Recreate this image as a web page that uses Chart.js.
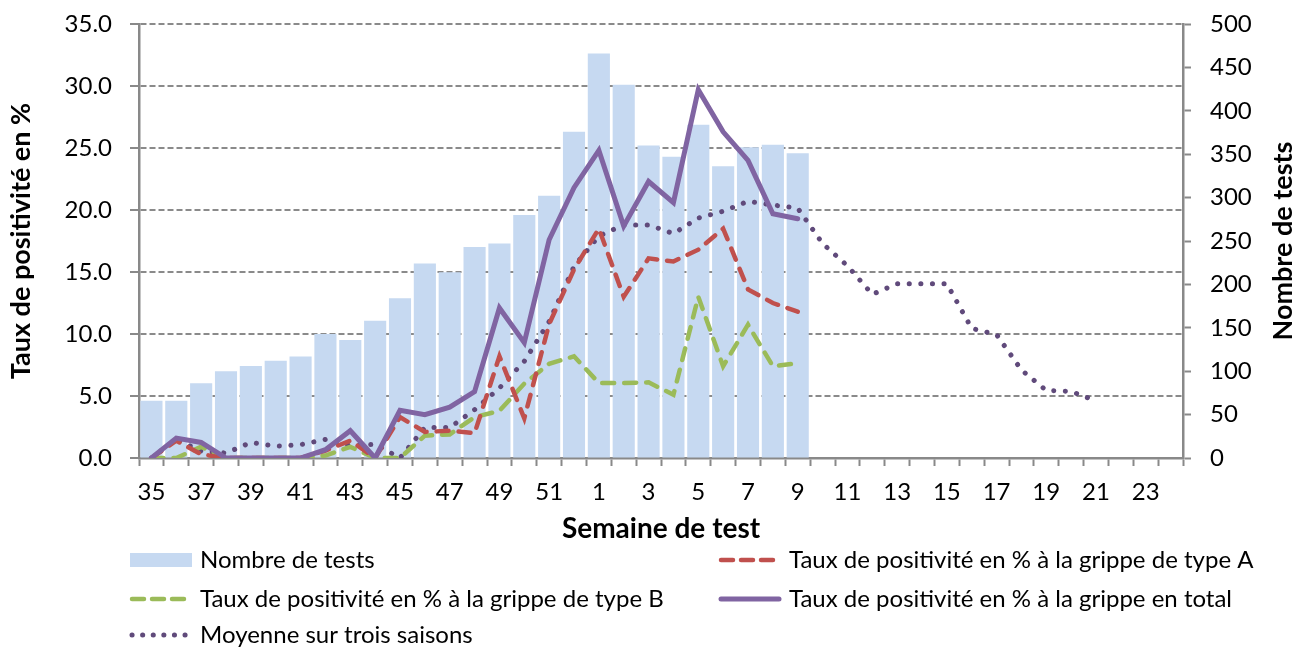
<!DOCTYPE html>
<html lang="fr">
<head>
<meta charset="utf-8">
<title>Taux de positivité grippe</title>
<script src="https://cdn.jsdelivr.net/npm/chart.js@4.4.1/dist/chart.umd.min.js"></script>
<style>
  html, body { margin: 0; padding: 0; background: #fff; }
  #wrap { width: 1299px; height: 649px; position: relative; }
</style>
</head>
<body>
<div id="wrap"><canvas id="chart"></canvas></div>
<script>
// Data
const weeks = ['35','36','37','38','39','40','41','42','43','44','45','46','47','48','49','50','51','52',
  '1','2','3','4','5','6','7','8','9','10','11','12','13','14','15','16','17','18','19','20','21','22','23','24'];

const nbTests = [66, 66, 86, 100, 106, 112, 117, 143, 136, 158, 184, 224, 214, 243, 247, 280, 302, 376,
  466, 430, 360, 347, 384, 336, 358, 361, 351];

const tauxA = [0, 1.4, 0.3, 0, 0, 0, 0, 0.6, 1.4, 0, 3.3, 2.1, 2.2, 2.0, 8.2, 3.2, 10.8, 15.2,
  18.5, 13.0, 16.1, 15.85, 16.8, 18.5, 13.6, 12.5, 11.8];

const tauxB = [0, 0, 0.9, 0, 0, 0, 0, 0.2, 0.9, 0, 0, 1.8, 1.9, 3.3, 3.8, 6.0, 7.6, 8.2,
  6.05, 6.05, 6.1, 5.1, 13.0, 7.4, 10.75, 7.4, 7.65];

const tauxTotal = [0, 1.6, 1.25, 0, 0, 0, 0, 0.67, 2.2, 0, 3.85, 3.5, 4.1, 5.35, 12.1, 9.3, 17.6, 21.8,
  24.8, 18.7, 22.3, 20.6, 29.7, 26.3, 24.0, 19.7, 19.3];

const moyenne = [0, 1.5, 0.55, 0.4, 1.25, 0.95, 1.07, 1.5, 1.0, 1.1, 0, 2.45, 2.45, 3.9, 5.64, 7.8, 11.0, 15.45,
  17.9, 18.8, 18.8, 18.1, 19.35, 19.9, 20.7, 20.4, 20.15, 17.3, 15.5, 13.2, 14.05, 14.05, 14.05, 10.45, 9.95,
  7.1, 5.45, 5.37, 4.6];

const leftTicks = [0, 5, 10, 15, 20, 25, 30, 35];
const rightTicks = [0, 50, 100, 150, 200, 250, 300, 350, 400, 450, 500];

const FONT = 'Lato, "Open Sans", sans-serif';

// pad series to the full week list
function pad(arr) {
  return weeks.map((w, i) => (i < arr.length ? arr[i] : null));
}

// custom legend + right axis title (reads bottom to top like the left one)
const extras = {
  id: 'extras',
  afterDraw(chart) {
    const ctx = chart.ctx;
    const ds = chart.data.datasets;
    const items = [
      { d: 0, x: 130, y: 560 },
      { d: 1, x: 719, y: 560 },
      { d: 2, x: 130, y: 599 },
      { d: 3, x: 719, y: 599 },
      { d: 4, x: 130, y: 635 }
    ];
    ctx.save();
    items.forEach(it => {
      const d = ds[it.d];
      if (d.type === 'bar') {
        ctx.fillStyle = d.backgroundColor;
        ctx.fillRect(it.x, it.y - 7, 62, 14);
      } else {
        ctx.beginPath();
        ctx.strokeStyle = d.borderColor;
        ctx.lineWidth = d.borderWidth;
        ctx.lineCap = d.borderCapStyle || 'butt';
        ctx.setLineDash(d.legendDash || []);
        ctx.moveTo(it.x + 2, it.y);
        ctx.lineTo(it.x + 60, it.y);
        ctx.stroke();
        ctx.setLineDash([]);
      }
      ctx.fillStyle = '#000';
      ctx.font = '24px ' + FONT;
      ctx.textBaseline = 'middle';
      ctx.textAlign = 'left';
      ctx.fillText(d.label, it.x + 70, it.y);
    });

    // right axis title
    const area = chart.chartArea;
    ctx.translate(1283, (area.top + area.bottom) / 2);
    ctx.rotate(-Math.PI / 2);
    ctx.font = 'bold 27px ' + FONT;
    ctx.textAlign = 'center';
    ctx.textBaseline = 'middle';
    ctx.fillText('Nombre de tests', 0, 0);
    ctx.restore();
  }
};

const chart = new Chart(document.getElementById('chart'), {
  data: {
    labels: weeks,
    datasets: [
      {
        type: 'bar',
        label: 'Nombre de tests',
        data: pad(nbTests),
        yAxisID: 'y1',
        backgroundColor: '#c6d9f1',
        barPercentage: 0.89,
        categoryPercentage: 1.0,
        order: 10
      },
      {
        type: 'line',
        label: 'Taux de positivité en % à la grippe de type A',
        data: pad(tauxA),
        yAxisID: 'y',
        borderColor: '#c0504d',
        borderWidth: 4.5,
        borderDash: [12, 10],
        legendDash: [12, 8],
        borderCapStyle: 'round',
        pointRadius: 0,
        tension: 0,
        order: 2
      },
      {
        type: 'line',
        label: 'Taux de positivité en % à la grippe de type B',
        data: pad(tauxB),
        yAxisID: 'y',
        borderColor: '#9bbb59',
        borderWidth: 4.5,
        borderDash: [12, 10],
        legendDash: [12, 8],
        borderCapStyle: 'round',
        pointRadius: 0,
        tension: 0,
        order: 3
      },
      {
        type: 'line',
        label: 'Taux de positivité en % à la grippe en total',
        data: pad(tauxTotal),
        yAxisID: 'y',
        borderColor: '#8064a2',
        borderWidth: 5,
        borderCapStyle: 'round',
        pointRadius: 0,
        tension: 0,
        order: 1
      },
      {
        type: 'line',
        label: 'Moyenne sur trois saisons',
        data: pad(moyenne),
        yAxisID: 'y',
        borderColor: '#604a7b',
        borderWidth: 5,
        borderDash: [0.1, 11.5],
        legendDash: [0.1, 10.5],
        borderCapStyle: 'round',
        pointRadius: 0,
        tension: 0,
        order: 4
      }
    ]
  },
  options: {
    responsive: true,
    maintainAspectRatio: false,
    animation: false,
    layout: { padding: { top: 24, bottom: 101, left: 0, right: 0 } },
    plugins: {
      legend: { display: false },
      tooltip: { enabled: false }
    },
    scales: {
      x: {
        type: 'category',
        offset: true,
        grid: {
          offset: true,
          drawOnChartArea: false,
          drawTicks: true,
          tickLength: 8,
          tickColor: '#898989',
          tickWidth: 2
        },
        border: { display: true, color: '#898989', width: 2.5 },
        ticks: {
          autoSkip: false,
          maxRotation: 0,
          minRotation: 0,
          padding: 12,
          color: '#000',
          font: { family: FONT, size: 24 },
          callback: function (v, i) { return i % 2 === 0 ? weeks[i] : ''; }
        },
        title: {
          display: true,
          text: 'Semaine de test',
          color: '#000',
          font: { family: FONT, size: 28, weight: 'bold' },
          padding: { top: 0, bottom: 2 }
        },
        afterFit: s => { s.height = 90; }
      },
      y: {
        position: 'left',
        min: 0,
        max: 35,
        afterBuildTicks: s => { s.ticks = leftTicks.map(v => ({ value: v })); },
        grid: {
          color: '#8a8a8a',
          lineWidth: 2,
          drawTicks: true,
          tickLength: 9,
          tickColor: '#898989',
          tickWidth: 2,
          tickBorderDash: []
        },
        border: { display: true, color: '#898989', width: 2.5, dash: [6, 3] },
        ticks: {
          padding: 18,
          color: '#000',
          font: { family: FONT, size: 24 },
          callback: v => v.toFixed(1)
        },
        title: {
          display: true,
          text: 'Taux de positivité en %',
          color: '#000',
          font: { family: FONT, size: 27, weight: 'bold' },
          padding: { top: 5, bottom: 0 }
        },
        afterFit: s => { s.width = 139; s.paddingTop = 0; s.paddingBottom = 0; }
      },
      y1: {
        position: 'right',
        min: 0,
        max: 500,
        afterBuildTicks: s => { s.ticks = rightTicks.map(v => ({ value: v })); },
        grid: {
          drawOnChartArea: false,
          drawTicks: true,
          tickLength: 8,
          tickColor: '#898989',
          tickWidth: 2
        },
        border: { display: true, color: '#898989', width: 2.5 },
        ticks: {
          padding: 19,
          color: '#000',
          font: { family: FONT, size: 24 }
        },
        afterFit: s => { s.width = 116; s.paddingTop = 0; s.paddingBottom = 0; }
      }
    }
  },
  plugins: [extras]
});
</script>
</body>
</html>
